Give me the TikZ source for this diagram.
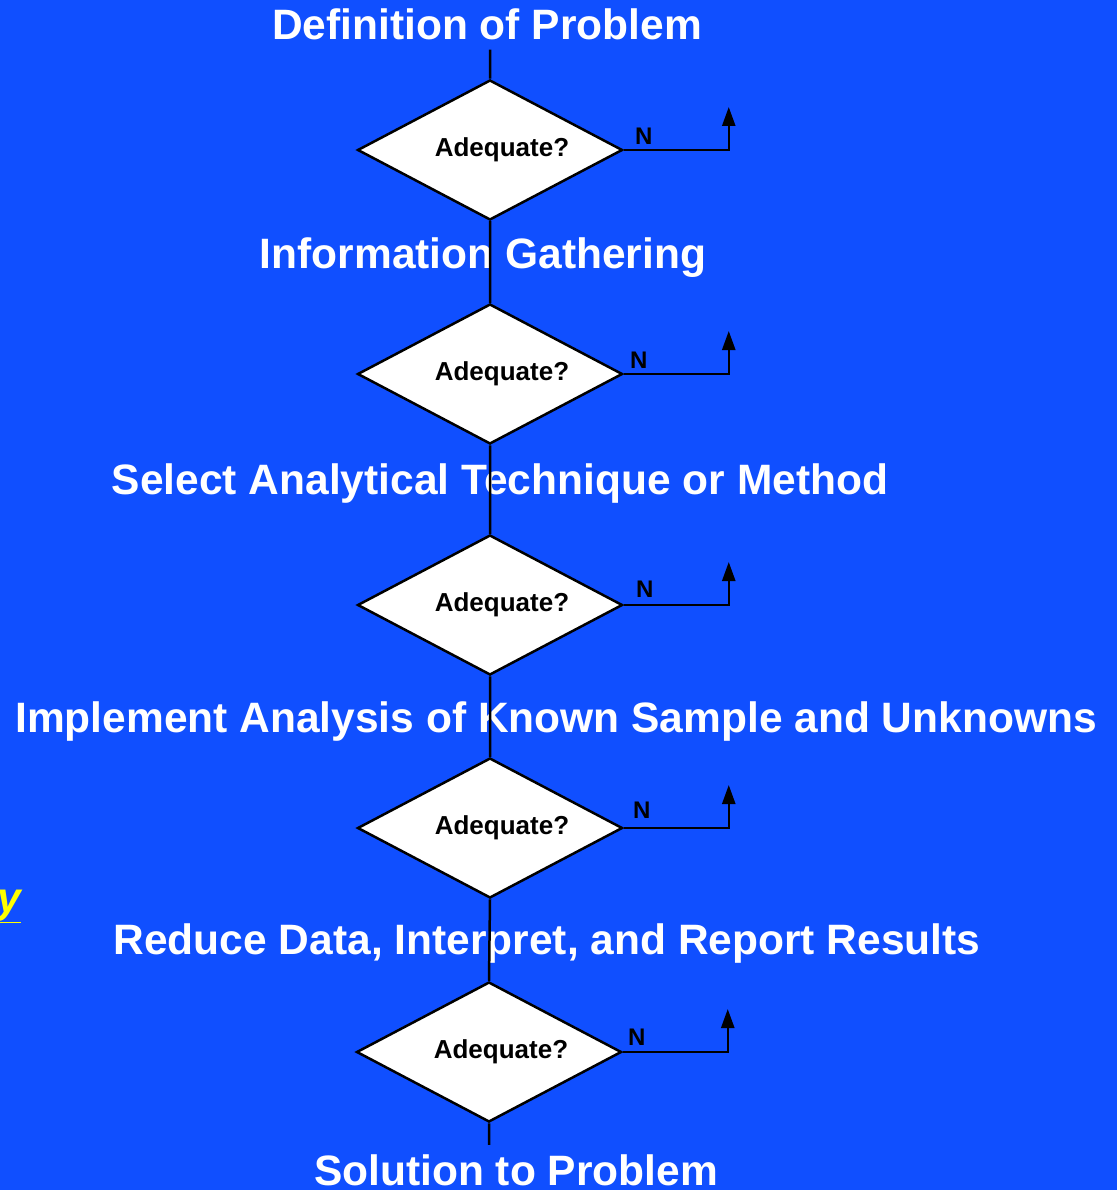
\documentclass[tikz,border=0pt]{standalone}
\usepackage{fontspec}
\setmainfont{Liberation Sans}
\usepackage{tikz}
\usetikzlibrary{shapes.geometric, positioning, arrows.meta}
\definecolor{slideblue}{RGB}{16,79,255}
\definecolor{slideyellow}{RGB}{255,255,0}
\tikzset{
x=1pt, y=-1pt, % one unit is one pixel of the slide, y runs downwards
>={Stealth[length=19pt, width=13pt, inset=0pt]}, % solid arrow heads
every picture/.style={line width=2.5pt}, % all lines are thick
stagetitle/.style={text=white, font=\fontsize{42.5}{50}\selectfont\bfseries, inner xsep=0pt, inner ysep=8pt, anchor=base}, % the steps of the procedure
check/.style={diamond, aspect=1.9, draw=black, fill=white, minimum width=265pt, minimum height=140pt, inner sep=0pt, font=\fontsize{26}{30}\selectfont\bfseries, execute at begin node={\hspace*{24pt}}}, % decision boxes, text sits a bit to the right
nolabel/.style={font=\fontsize{24}{28}\selectfont\bfseries, inner sep=0pt}, % the 'N' on the way back
}

\begin{document}
\begin{tikzpicture}
        \fill[slideblue] (0,0) rectangle (1117,1190);
        \useasboundingbox (0,0) rectangle (1117,1190);

        \node[stagetitle] (t0) at (487,40) {Definition of Problem};
        \node[check] (d1) at (490,150) {Adequate?};
        \node[stagetitle] (t1) at (483,268) {Information Gathering};
        \node[check] (d2) at (490,374) {Adequate?};
        \node[stagetitle] (t2) at (500,494) {Select Analytical Technique or Method};
        \node[check] (d3) at (490,605) {Adequate?};
        \node[stagetitle] (t3) at (556,732) {Implement Analysis of Known Sample and Unknowns};
        \node[check] (d4) at (490,828) {Adequate?};
        \node[stagetitle] (t4) at (547,954) {Reduce Data, Interpret, and Report Results};
        \node[check] (d5) at (489,1052) {Adequate?};
        \node[stagetitle] (t5) at (516,1185) {Solution to Problem};

        \node[text=slideyellow, font=\fontsize{42.5}{50}\selectfont\bfseries\itshape, inner sep=0pt, anchor=base west] (cut) at (-4,912) {\underline{y}};

        \node[nolabel, above right=4.5pt and 10pt of d1.east] (n1) {N};
        \node[nolabel, above right=4.5pt and 5pt of d2.east] (n2) {N};
        \node[nolabel, above right=6.5pt and 11pt of d3.east] (n3) {N};
        \node[nolabel, above right=8.5pt and 8pt of d4.east] (n4) {N};
        \node[nolabel, above right=5.5pt and 4pt of d5.east] (n5) {N};

        \coordinate (u1) at ([xshift=105pt, yshift=43pt]d1.east);
        \coordinate (u2) at ([xshift=105pt, yshift=43pt]d2.east);
        \coordinate (u3) at ([xshift=105pt, yshift=43pt]d3.east);
        \coordinate (u4) at ([xshift=105pt, yshift=43pt]d4.east);
        \coordinate (u5) at ([xshift=105pt, yshift=43pt]d5.east);

        \draw (d1.north) -- (d1.north |- t0.south)
              (d1.south) -- (d2.north)
              (d2.south) -- (d3.north)
              (d3.south) -- (d4.north)
              (d4.south) -- (d5.north)
              (d5.south) -- (d5.south |- t5.north);

        \draw[->] (d1.east) -| (u1);
        \draw[->] (d2.east) -| (u2);
        \draw[->] (d3.east) -| (u3);
        \draw[->] (d4.east) -| (u4);
        \draw[->] (d5.east) -| (u5);
    \end{tikzpicture}
\end{document}
